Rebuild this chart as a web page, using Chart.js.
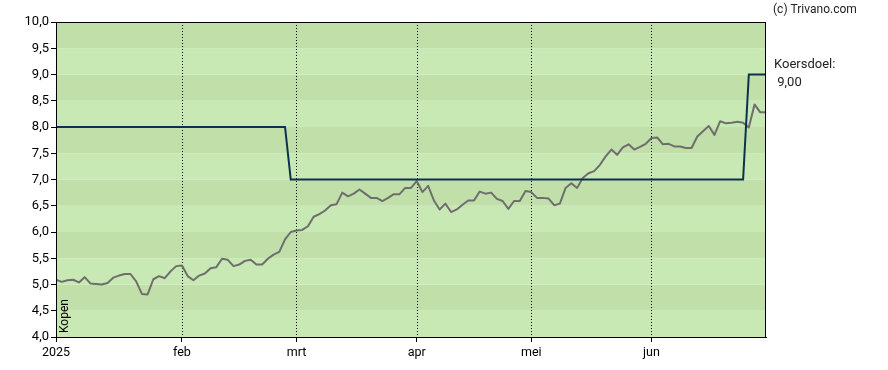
<!DOCTYPE html>
<html>
<head>
<meta charset="utf-8">
<script src="https://cdn.jsdelivr.net/npm/chart.js@4/dist/chart.umd.min.js"></script>
<style>
  html, body { margin: 0; padding: 0; background: #fff; }
  #wrap { position: relative; width: 888px; height: 370px; }
</style>
</head>
<body>
<div id="wrap"><canvas id="chart" width="888" height="370"></canvas></div>
<script>
// trading-day index of each month start, and its label
const monthTicks = [0, 22, 42, 63, 83, 104];
const monthLabels = ['2025', 'feb', 'mrt', 'apr', 'mei', 'jun'];

// closing price per trading day (index 0 = first trading day of 2025)
const koers = [
    5.09, 5.05, 5.08, 5.09, 5.04, 5.14, 5.02, 5.01, 5.00, 5.03,
    5.13, 5.17, 5.20, 5.20, 5.06, 4.82, 4.81, 5.10, 5.16, 5.12,
    5.25, 5.35, 5.36, 5.16, 5.08, 5.17, 5.21, 5.31, 5.33, 5.49,
    5.47, 5.35, 5.38, 5.45, 5.47, 5.38, 5.38, 5.49, 5.57, 5.62,
    5.86, 6.00, 6.03, 6.04, 6.11, 6.29, 6.34, 6.41, 6.51, 6.53,
    6.75, 6.68, 6.73, 6.81, 6.73, 6.65, 6.65, 6.59, 6.65, 6.72,
    6.72, 6.84, 6.84, 6.97, 6.76, 6.88, 6.60, 6.43, 6.54, 6.38,
    6.43, 6.52, 6.60, 6.60, 6.77, 6.73, 6.75, 6.63, 6.59, 6.44,
    6.59, 6.59, 6.78, 6.76, 6.65, 6.65, 6.64, 6.51, 6.54, 6.84,
    6.93, 6.84, 7.03, 7.12, 7.16, 7.28, 7.44, 7.57, 7.47, 7.61,
    7.67, 7.57, 7.62, 7.68, 7.79, 7.80, 7.67, 7.68, 7.63, 7.63,
    7.60, 7.60, 7.82, 7.92, 8.02, 7.85, 8.11, 8.07, 8.08, 8.10,
    8.08, 7.99, 8.43, 8.28, 8.28
];

// price target: change points (trading-day index, value)
const doelDays = [0, 40, 41, 120, 121, 124];
const doelValues = [8.0, 8.0, 7.0, 7.0, 9.0, 9.0];

const yTicks = [4.0, 4.5, 5.0, 5.5, 6.0, 6.5, 7.0, 7.5, 8.0, 8.5, 9.0, 9.5, 10.0];
const koersdoelText = ['Koersdoel:', ' 9,00'];

const FONT = 'Roboto, "Liberation Sans", Arial, sans-serif';

const backdrop = {
    id: 'backdrop',
    beforeDraw(chart) {
        const { ctx, chartArea: a, scales: { y } } = chart;
        ctx.save();
        for (let i = 0; i < yTicks.length - 1; i++) {
            const top = y.getPixelForValue(yTicks[i + 1]);
            const bot = y.getPixelForValue(yTicks[i]);
            ctx.fillStyle = (i % 2 === 1) ? '#c1e0a9' : '#c8e9b3';
            ctx.fillRect(a.left, top, a.right - a.left, bot - top);
        }
        ctx.restore();
    },
    beforeDatasetsDraw(chart) {
        const { ctx, chartArea: a, scales: { x } } = chart;
        ctx.save();
        ctx.strokeStyle = '#000';
        ctx.lineWidth = 1;
        ctx.setLineDash([1, 2]);
        monthTicks.slice(1).forEach(t => {
            const px = Math.round(x.getPixelForValue(t)) + 0.5;
            ctx.beginPath();
            ctx.moveTo(px, a.top);
            ctx.lineTo(px, a.bottom);
            ctx.stroke();
        });
        ctx.restore();
    },
    afterDraw(chart) {
        const { ctx, chartArea: a } = chart;
        ctx.save();
        ctx.strokeStyle = '#000';
        ctx.lineWidth = 1;
        ctx.strokeRect(a.left + 0.5, a.top + 0.5, a.right - a.left - 1, a.bottom - a.top);

        ctx.fillStyle = '#222';
        ctx.textAlign = 'left';
        ctx.textBaseline = 'alphabetic';
        ctx.font = '12px ' + FONT;
        ctx.fillText('(c) Trivano.com', a.right + 7, 13);
        ctx.font = '13px ' + FONT;
        ctx.fillText(koersdoelText[0], a.right + 8, 68);
        ctx.fillText(koersdoelText[1], a.right + 8, 86);

        ctx.font = '12px ' + FONT;
        ctx.translate(a.left + 12, a.bottom - 4);
        ctx.rotate(-Math.PI / 2);
        ctx.fillStyle = '#000';
        ctx.fillText('Kopen', 0, 0);
        ctx.restore();
    }
};

new Chart(document.getElementById('chart').getContext('2d'), {
    type: 'line',
    data: {
        datasets: [
            {
                label: 'Koersdoel',
                data: doelDays.map((d, i) => ({ x: d, y: doelValues[i] })),
                borderColor: '#0c3150',
                borderWidth: 2,
                pointRadius: 0,
                tension: 0,
            },
            {
                label: 'Koers',
                data: koers.map((v, i) => ({ x: i, y: v })),
                borderColor: '#6e6e6e',
                borderWidth: 2,
                borderJoinStyle: 'round',
                pointRadius: 0,
                tension: 0,
            },
        ],
    },
    options: {
        responsive: false,
        animation: false,
        layout: { padding: { top: 22, right: 122, left: 0, bottom: 0 } },
        plugins: {
            legend: { display: false },
            tooltip: { enabled: false },
        },
        scales: {
            x: {
                type: 'linear',
                min: 0,
                max: koers.length - 1,
                afterBuildTicks: s => { s.ticks = monthTicks.map(v => ({ value: v })); },
                afterFit: s => { s.height = 33; },
                ticks: {
                    autoSkip: false,
                    maxRotation: 0,
                    padding: 3,
                    color: '#000',
                    font: { family: FONT, size: 12.5 },
                    callback: v => monthLabels[monthTicks.indexOf(v)],
                },
                grid: { drawOnChartArea: false, color: '#000', tickLength: 5 },
                border: { color: '#000', width: 1 },
            },
            y: {
                min: 4,
                max: 10,
                afterBuildTicks: s => { s.ticks = yTicks.map(v => ({ value: v })); },
                afterFit: s => { s.width = 56; },
                ticks: {
                    padding: 2,
                    color: '#000',
                    font: { family: FONT, size: 13 },
                    callback: v => v.toFixed(1).replace('.', ','),
                },
                grid: { drawOnChartArea: false, color: '#000', tickLength: 5 },
                border: { color: '#000', width: 1 },
            },
        },
    },
    plugins: [backdrop],
});
</script>
</body>
</html>
